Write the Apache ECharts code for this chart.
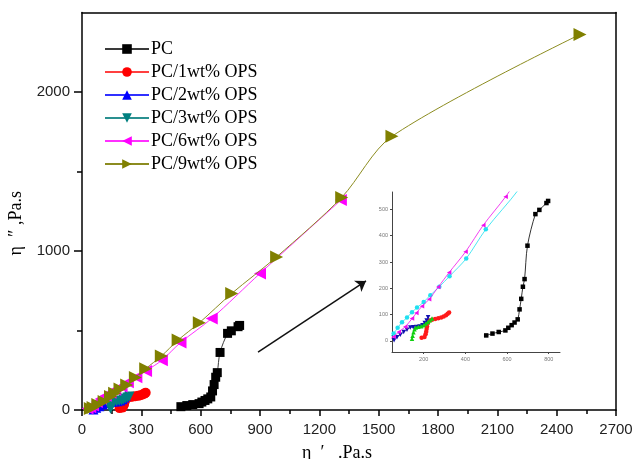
<!DOCTYPE html>
<html>
<head>
<meta charset="utf-8">
<script src="https://cdn.jsdelivr.net/npm/echarts@6/dist/echarts.min.js"></script>
<style>
  html, body { margin: 0; padding: 0; background: #fff; }
  #chart { width: 634px; height: 459px; }
</style>
</head>
<body>
<div id="chart"></div>
<script>
// Loss viscosity η″ against storage viscosity η′ for PC and PC/OPS blends
const seriesNames = ['PC', 'PC/1wt% OPS', 'PC/2wt% OPS', 'PC/3wt% OPS', 'PC/6wt% OPS', 'PC/9wt% OPS'];

const pcData = [[500, 21], [530, 28], [560, 34], [592, 40], [606, 50], [622, 60], [636, 70], [651, 82],
  [660, 120], [668, 160], [676, 206], [684, 235], [698, 362], [736, 482], [755, 498], [789, 524], [797, 532]];
const wt1Data = [[190, 12], [204, 15], [209, 25], [212, 35], [214, 45], [216, 55], [221, 69], [226, 78],
  [240, 81], [255, 83], [270, 86], [284, 89], [296, 93], [307, 98], [315, 103], [322, 108]];
const wt2Data = [[58, 3], [72, 14], [88, 24], [104, 34], [120, 43], [136, 51], [150, 52], [165, 53],
  [180, 55], [194, 60], [205, 68], [214, 78], [221, 90]];
const wt3Data = [[144, 8], [147, 20], [151, 33], [156, 44], [162, 51], [175, 54], [188, 56], [200, 60],
  [210, 66], [220, 72], [230, 79], [240, 85]];
const wt6Data = [[28, 10], [42, 18], [56, 28], [75, 50], [96, 71], [120, 89], [144, 109], [168, 127],
  [200, 148], [232, 174], [275, 206], [324, 246], [404, 313], [498, 424], [656, 576], [900, 859], [1309, 1320]];
const wt9Data = [[42, 9], [56, 16], [80, 34], [112, 54], [144, 85], [165, 106], [192, 132], [226, 158],
  [270, 205], [322, 260], [401, 339], [486, 440], [593, 548], [757, 733], [984, 963], [1313, 1337],
  [1567, 1721], [2518, 2362]];

const allData = [pcData, wt1Data, wt2Data, wt3Data, wt6Data, wt9Data];

// marker look of the main plot
const mainColors = ['#000000', '#ff0000', '#0000ff', '#008080', '#ff00ff', '#808000'];
const mainLineColors = ['#3a3a3a', '#ff4040', '#3030ff', '#2a9090', '#ff30ff', '#8c8c20'];
const mainSymbols = ['rect', 'circle', 'triangle', 'triangle', 'triangle', 'triangle'];
const mainRotate = [0, 0, 0, 180, 90, -90];
const mainSizes = [9, 10, 10, 10, 12, 13];

// marker look of the enlarged view
const insetColors = ['#000000', '#ff1a1a', '#1010b0', '#10d010', '#20e0f0', '#ee10ee'];
const insetSymbols = ['rect', 'circle', 'triangle', 'triangle', 'circle', 'triangle'];
const insetRotate = [0, 0, 180, 0, 0, 90];

const mainXLabels = [0, 300, 600, 900, 1200, 1500, 1800, 2100, 2400, 2700];
const mainYLabels = [0, 1000, 2000];
const insetXTicks = [200, 400, 600, 800];
const insetYTicks = [0, 100, 200, 300, 400, 500];

const chart = echarts.init(document.getElementById('chart'), null, { renderer: 'canvas' });

const series = [];
allData.forEach((d, i) => {
  series.push({
    name: seriesNames[i],
    type: 'line',
    xAxisIndex: 0, yAxisIndex: 0,
    data: d,
    smooth: 0.3,
    symbol: mainSymbols[i],
    symbolRotate: mainRotate[i],
    symbolSize: mainSizes[i],
    showAllSymbol: true,
    itemStyle: { color: mainColors[i] },
    lineStyle: { color: mainLineColors[i], width: 1 },
    emphasis: { disabled: true },
    z: 3 + i
  });
});
allData.forEach((d, i) => {
  series.push({
    name: seriesNames[i] + ' (zoom)',
    type: 'line',
    xAxisIndex: 2, yAxisIndex: 2,
    data: d,
    smooth: 0.3,
    clip: true,
    symbol: insetSymbols[i],
    symbolRotate: insetRotate[i],
    symbolSize: 4.5,
    showAllSymbol: true,
    itemStyle: { color: insetColors[i] },
    lineStyle: { color: insetColors[i], width: 0.8 },
    emphasis: { disabled: true },
    z: 3 + i
  });
});

// arrow pointing from the low-viscosity cluster to the enlarged view
series[0].markLine = {
  silent: true,
  symbol: ['none', 'arrow'],
  symbolSize: 10,
  label: { show: false },
  emphasis: { disabled: true },
  lineStyle: { color: '#111', width: 1.5, type: 'solid' },
  data: [[{ coord: [890, 364] }, { coord: [1436, 812] }]]
};

const serif = '"Liberation Serif", "Times New Roman", serif';
const sans = '"Liberation Sans", Arial, sans-serif';
const plain = v => String(v);

const option = {
  animation: false,
  backgroundColor: '#ffffff',
  legend: {
    data: seriesNames,
    orient: 'vertical',
    left: 99, top: 35,
    itemWidth: 44, itemHeight: 12, itemGap: 5,
    textStyle: { fontFamily: serif, fontSize: 18, color: '#000', lineHeight: 18, padding: [0, 0, 0, -3] },
    selectedMode: false
  },
  grid: [
    { left: 82, right: 18, top: 12.5, bottom: 49, outerBoundsMode: 'none', containLabel: false },
    { left: 392, top: 192, width: 168, height: 160, outerBoundsMode: 'none', containLabel: false }
  ],
  xAxis: [
    {
      type: 'value', gridIndex: 0, min: 0, max: 2700, interval: 300,
      name: 'η  ′   .Pa.s', nameLocation: 'middle', nameGap: 34,
      nameTextStyle: { fontFamily: serif, fontSize: 18, color: '#000', padding: [0, 24, 0, 0] },
      axisLine: { show: true, onZero: false, lineStyle: { color: '#000', width: 1.5 } },
      axisTick: { show: true, inside: false, length: 6, lineStyle: { color: '#000', width: 1.5 } },
      minorTick: { show: true, splitNumber: 2, length: 4, lineStyle: { color: '#000', width: 1.5 } },
      axisLabel: { margin: 12, fontFamily: sans, fontSize: 15, color: '#222', formatter: plain, customValues: mainXLabels },
      splitLine: { show: false }
    },
    {
      type: 'value', gridIndex: 0, min: 0, max: 2700, position: 'top',
      axisLine: { show: true, onZero: false, lineStyle: { color: '#000', width: 1.5 } },
      axisTick: { show: false }, axisLabel: { show: false }, splitLine: { show: false }
    },
    {
      type: 'value', gridIndex: 1, min: 48, max: 854,
      axisLine: { show: true, onZero: false, lineStyle: { color: '#444', width: 1 } },
      axisTick: { show: true, length: 2, customValues: insetXTicks, lineStyle: { color: '#444', width: 1 } },
      axisLabel: { margin: 4, fontFamily: sans, fontSize: 5.5, color: '#777', customValues: insetXTicks, formatter: plain },
      splitLine: { show: false }
    }
  ],
  yAxis: [
    {
      type: 'value', gridIndex: 0, min: 0, max: 2500, interval: 500,
      name: 'η  ″ ,Pa.s', nameLocation: 'middle', nameRotate: 90, nameGap: 43,
      nameTextStyle: { fontFamily: serif, fontSize: 18, color: '#000', padding: [0, 24, 0, 0] },
      axisLine: { show: true, onZero: false, lineStyle: { color: '#000', width: 1.5 } },
      axisTick: { show: true, inside: false, length: 8, customValues: mainYLabels, lineStyle: { color: '#000', width: 1.5 } },
      minorTick: { show: false },
      axisLabel: { margin: 12, fontFamily: sans, fontSize: 15, color: '#222', formatter: plain, customValues: mainYLabels },
      splitLine: { show: false }
    },
    {
      type: 'value', gridIndex: 0, min: 0, max: 2500, position: 'right',
      axisLine: { show: true, onZero: false, lineStyle: { color: '#000', width: 1.5 } },
      axisTick: { show: false }, axisLabel: { show: false }, splitLine: { show: false }
    },
    {
      type: 'value', gridIndex: 1, min: -42, max: 566,
      axisLine: { show: true, onZero: false, lineStyle: { color: '#444', width: 1 } },
      axisTick: { show: true, length: 2, customValues: insetYTicks, lineStyle: { color: '#444', width: 1 } },
      axisLabel: { margin: 4, fontFamily: sans, fontSize: 5.5, color: '#777', customValues: insetYTicks, formatter: plain },
      splitLine: { show: false }
    }
  ],
  series: series
};

chart.setOption(option);

// short minor ticks on the left axis at 500 and 1500
chart.setOption({
  yAxis: [{}, {}, {}, {
    type: 'value', gridIndex: 0, min: 0, max: 2500, position: 'left',
    axisLine: { show: false },
    axisTick: { show: true, inside: false, length: 5, customValues: [500, 1500], lineStyle: { color: '#000', width: 1.5 } },
    axisLabel: { show: false }, splitLine: { show: false }
  }]
});
</script>
</body>
</html>
